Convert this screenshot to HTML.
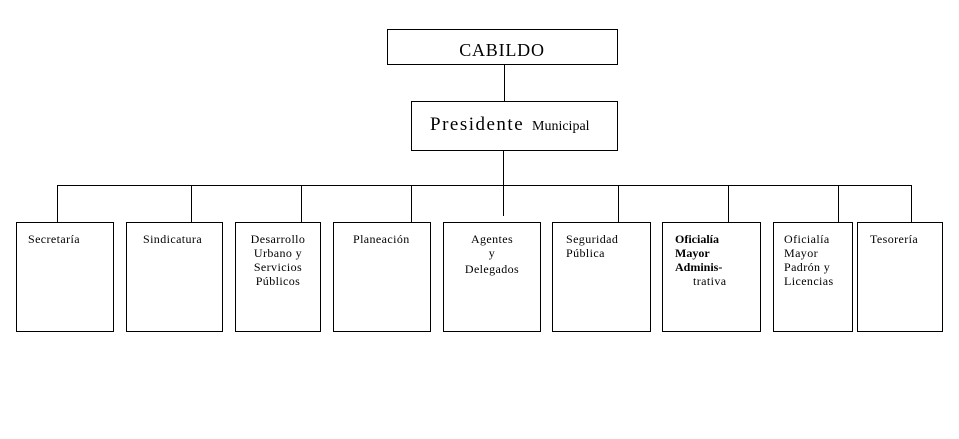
<!DOCTYPE html>
<html><head><meta charset="utf-8"><style>
html,body{margin:0;padding:0;background:#fff;}
svg{display:block;}
text{font-family:"Liberation Serif",serif;fill:#000;}
.t{font-size:12px;letter-spacing:0.4px;}
</style></head><body>
<svg width="959" height="439" viewBox="0 0 959 439">
<g fill="#fff" stroke="#000" stroke-width="1" shape-rendering="crispEdges">
<rect x="387.5" y="29.5" width="230" height="35"/>
<rect x="411.5" y="101.5" width="206" height="49"/>
<rect x="16.5" y="222.5" width="97" height="109"/>
<rect x="126.5" y="222.5" width="96" height="109"/>
<rect x="235.5" y="222.5" width="85" height="109"/>
<rect x="333.5" y="222.5" width="97" height="109"/>
<rect x="443.5" y="222.5" width="97" height="109"/>
<rect x="552.5" y="222.5" width="98" height="109"/>
<rect x="662.5" y="222.5" width="98" height="109"/>
<rect x="773.5" y="222.5" width="79" height="109"/>
<rect x="857.5" y="222.5" width="85" height="109"/>
</g>
<g stroke="#000" stroke-width="1" shape-rendering="crispEdges" fill="none">
<line x1="504.5" y1="64" x2="504.5" y2="101"/>
<line x1="503.5" y1="150" x2="503.5" y2="216"/>
<line x1="57" y1="185.5" x2="912" y2="185.5"/>
<line x1="57.5" y1="185" x2="57.5" y2="222"/>
<line x1="191.5" y1="185" x2="191.5" y2="222"/>
<line x1="301.5" y1="185" x2="301.5" y2="222"/>
<line x1="411.5" y1="185" x2="411.5" y2="222"/>
<line x1="618.5" y1="185" x2="618.5" y2="222"/>
<line x1="728.5" y1="185" x2="728.5" y2="222"/>
<line x1="838.5" y1="185" x2="838.5" y2="222"/>
<line x1="911.5" y1="185" x2="911.5" y2="222"/>
</g>
<text x="502" y="56" font-size="18" text-anchor="middle" letter-spacing="0.8">CABILDO</text>
<text x="430" y="130" font-size="19" letter-spacing="1.5">Presidente</text>
<text x="532" y="130" font-size="14">Municipal</text>
<g class="t">
<text x="28" y="243">Secretaría</text>
<text x="143" y="243">Sindicatura</text>
<text x="278" y="243" text-anchor="middle">Desarrollo</text>
<text x="278" y="257" text-anchor="middle">Urbano y</text>
<text x="278" y="271" text-anchor="middle">Servicios</text>
<text x="278" y="285" text-anchor="middle">Públicos</text>
<text x="353" y="243">Planeación</text>
<text x="492" y="243" text-anchor="middle">Agentes</text>
<text x="492" y="257" text-anchor="middle">y</text>
<text x="492" y="273" text-anchor="middle">Delegados</text>
<text x="566" y="243">Seguridad</text>
<text x="566" y="257">Pública</text>
<text x="675" y="243" font-weight="bold" letter-spacing="0">Oficialía</text>
<text x="675" y="257" font-weight="bold" letter-spacing="0">Mayor</text>
<text x="675" y="271" font-weight="bold" letter-spacing="0">Adminis-</text>
<text x="693" y="285">trativa</text>
<text x="784" y="243">Oficialía</text>
<text x="784" y="257">Mayor</text>
<text x="784" y="271">Padrón y</text>
<text x="784" y="285">Licencias</text>
<text x="870" y="243">Tesorería</text>
</g>
</svg>
</body></html>
